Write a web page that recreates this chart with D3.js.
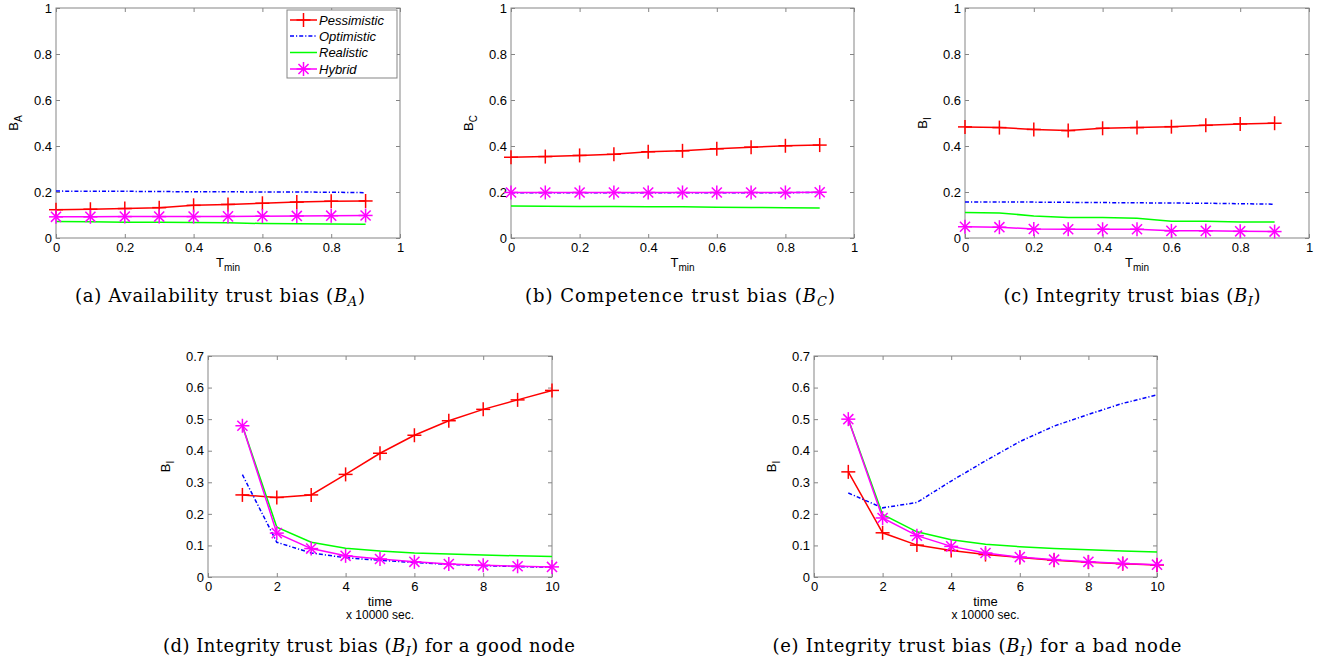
<!DOCTYPE html>
<html><head><meta charset="utf-8">
<script src="https://cdn.jsdelivr.net/npm/d3@7"></script>
<style>body{margin:0;background:#fff}svg{display:block}</style>
</head><body>
<svg id="chart" width="1320" height="662"></svg>
<script>
// ---- data ----
const seriesNames = ["Pessimistic", "Optimistic", "Realistic", "Hybrid"];
const tmin = [0, 0.1, 0.2, 0.3, 0.4, 0.5, 0.6, 0.7, 0.8, 0.9];
const timeSteps = [1, 2, 3, 4, 5, 6, 7, 8, 9, 10];
const tminTicks = [0, 0.2, 0.4, 0.6, 0.8, 1];
const tminTickLabels = ["0", "0.2", "0.4", "0.6", "0.8", "1"];
const biasTicks01 = [0, 0.2, 0.4, 0.6, 0.8, 1];
const biasTickLabels01 = ["0", "0.2", "0.4", "0.6", "0.8", "1"];
const timeTicks = [0, 2, 4, 6, 8, 10];
const timeTickLabels = ["0", "2", "4", "6", "8", "10"];
const biasTicks07 = [0, 0.1, 0.2, 0.3, 0.4, 0.5, 0.6, 0.7];
const biasTickLabels07 = ["0", "0.1", "0.2", "0.3", "0.4", "0.5", "0.6", "0.7"];

// (a) availability
const aPess = [0.123, 0.125, 0.128, 0.132, 0.142, 0.146, 0.151, 0.156, 0.160, 0.161];
const aOpt  = [0.204, 0.203, 0.203, 0.202, 0.201, 0.201, 0.200, 0.200, 0.199, 0.197];
const aReal = [0.072, 0.071, 0.069, 0.068, 0.067, 0.066, 0.063, 0.062, 0.061, 0.060];
const aHyb  = [0.092, 0.092, 0.093, 0.093, 0.093, 0.094, 0.095, 0.096, 0.097, 0.098];
// (b) competence
const bPess = [0.351, 0.354, 0.359, 0.364, 0.375, 0.379, 0.388, 0.395, 0.401, 0.404];
const bOpt  = [0.197, 0.197, 0.197, 0.197, 0.197, 0.197, 0.197, 0.197, 0.197, 0.198];
const bReal = [0.139, 0.138, 0.137, 0.137, 0.136, 0.136, 0.134, 0.133, 0.132, 0.130];
const bHyb  = [0.198, 0.198, 0.198, 0.198, 0.198, 0.198, 0.198, 0.198, 0.198, 0.199];
// (c) integrity
const cPess = [0.483, 0.480, 0.472, 0.467, 0.477, 0.480, 0.484, 0.490, 0.496, 0.499];
const cOpt  = [0.157, 0.157, 0.156, 0.155, 0.154, 0.153, 0.152, 0.151, 0.149, 0.147];
const cReal = [0.111, 0.109, 0.096, 0.089, 0.089, 0.086, 0.073, 0.073, 0.070, 0.070];
const cHyb  = [0.049, 0.047, 0.039, 0.038, 0.038, 0.038, 0.031, 0.031, 0.029, 0.028];
// (d) integrity, good node
const dPess = [0.260, 0.252, 0.260, 0.325, 0.392, 0.449, 0.495, 0.531, 0.561, 0.591];
const dOpt  = [0.324, 0.110, 0.076, 0.061, 0.053, 0.046, 0.040, 0.036, 0.033, 0.031];
const dReal = [0.479, 0.158, 0.110, 0.091, 0.082, 0.076, 0.073, 0.070, 0.067, 0.065];
const dHyb  = [0.479, 0.139, 0.090, 0.067, 0.057, 0.048, 0.041, 0.037, 0.034, 0.032];
// (e) integrity, bad node
const ePess = [0.333, 0.140, 0.101, 0.084, 0.071, 0.062, 0.053, 0.047, 0.042, 0.038];
const eOpt  = [0.266, 0.219, 0.236, 0.304, 0.368, 0.429, 0.478, 0.515, 0.550, 0.577];
const eReal = [0.500, 0.198, 0.143, 0.118, 0.104, 0.096, 0.090, 0.086, 0.082, 0.079];
const eHyb  = [0.500, 0.187, 0.131, 0.097, 0.076, 0.063, 0.055, 0.048, 0.043, 0.039];

// ---- styles ----
const styles = {
  Pessimistic: {color: "#ff0000", dash: null, marker: "plus"},
  Optimistic:  {color: "#0000ff", dash: "4,2,1.2,2", marker: null},
  Realistic:   {color: "#00ff00", dash: null, marker: null},
  Hybrid:      {color: "#ff00ff", dash: null, marker: "star"}
};

const panels = [
  {x: tmin, s: [aPess, aOpt, aReal, aHyb], box: [56, 400, 8, 238], xd: [0, 1], yd: [0, 1],
   xt: tminTicks, xtl: tminTickLabels, yt: biasTicks01, ytl: biasTickLabels01,
   ylab: ["B", "A"], xlab: "tmin", legend: true,
   cap: {pre: "(a) Availability trust bias (", sub: "A", post: ")", x: 220, y: 302, w: 290}},
  {x: tmin, s: [bPess, bOpt, bReal, bHyb], box: [511, 854, 8, 238], xd: [0, 1], yd: [0, 1],
   xt: tminTicks, xtl: tminTickLabels, yt: biasTicks01, ytl: biasTickLabels01,
   ylab: ["B", "C"], xlab: "tmin",
   cap: {pre: "(b) Competence trust bias (", sub: "C", post: ")", x: 680, y: 302, w: 310}},
  {x: tmin, s: [cPess, cOpt, cReal, cHyb], box: [965, 1309, 8, 238], xd: [0, 1], yd: [0, 1],
   xt: tminTicks, xtl: tminTickLabels, yt: biasTicks01, ytl: biasTickLabels01,
   ylab: ["B", "I"], xlab: "tmin",
   cap: {pre: "(c) Integrity trust bias (", sub: "I", post: ")", x: 1132, y: 302, w: 257}},
  {x: timeSteps, s: [dPess, dOpt, dReal, dHyb], box: [208, 552, 356, 577], xd: [0, 10], yd: [0, 0.7],
   xt: timeTicks, xtl: timeTickLabels, yt: biasTicks07, ytl: biasTickLabels07,
   ylab: ["B", "I"], xlab: "time",
   cap: {pre: "(d) Integrity trust bias (", sub: "I", post: ") for a good node", x: 369, y: 652, w: 412}},
  {x: timeSteps, s: [ePess, eOpt, eReal, eHyb], box: [814, 1157, 356, 577], xd: [0, 10], yd: [0, 0.7],
   xt: timeTicks, xtl: timeTickLabels, yt: biasTicks07, ytl: biasTickLabels07,
   ylab: ["B", "I"], xlab: "time",
   cap: {pre: "(e) Integrity trust bias (", sub: "I", post: ") for a bad node", x: 977, y: 652, w: 409}}
];

const svg = d3.select("#chart");
const FONT = "'Liberation Sans', Arial, Helvetica, sans-serif";
const SERIF = "'DejaVu Serif', 'Liberation Serif', serif";
const BORDER = "#858585";

function drawMarker(g, type, cx, cy, color, r) {
  const m = g.append("g").attr("transform", `translate(${cx},${cy})`)
    .attr("stroke", color).attr("stroke-width", 1.5).attr("fill", "none");
  const lines = [[-r, 0, r, 0], [0, -r, 0, r]];
  if (type === "star") {
    const k = r * 0.72;
    lines.push([-k, -k, k, k], [-k, k, k, -k]);
  }
  lines.forEach(l => m.append("line").attr("x1", l[0]).attr("y1", l[1]).attr("x2", l[2]).attr("y2", l[3]));
}

panels.forEach(p => {
  const [x0, x1, y0, y1] = p.box;
  const xs = d3.scaleLinear().domain(p.xd).range([x0, x1]);
  const ys = d3.scaleLinear().domain(p.yd).range([y1, y0]);
  const g = svg.append("g");

  g.append("rect").attr("x", x0).attr("y", y0).attr("width", x1 - x0).attr("height", y1 - y0)
    .attr("fill", "#fff");

  // axes (ticks inward, on all four sides)
  const tickLen = 4;
  const xAxis = d3.axisBottom(xs).tickValues(p.xt).tickFormat((d, i) => p.xtl[i]).tickSize(-tickLen).tickPadding(5);
  const yAxis = d3.axisLeft(ys).tickValues(p.yt).tickFormat((d, i) => p.ytl[i]).tickSize(-tickLen).tickPadding(4);
  const xTop = d3.axisTop(xs).tickValues(p.xt).tickFormat("").tickSize(-tickLen);
  const yRight = d3.axisRight(ys).tickValues(p.yt).tickFormat("").tickSize(-tickLen);

  [[xAxis, `translate(0,${y1})`], [yAxis, `translate(${x0},0)`],
   [xTop, `translate(0,${y0})`], [yRight, `translate(${x1},0)`]].forEach(([ax, tr]) => {
    const a = g.append("g").attr("transform", tr).call(ax);
    a.select(".domain").remove();
    a.selectAll(".tick line").attr("stroke", BORDER);
    a.selectAll(".tick text").attr("fill", "#000").style("font-family", FONT).style("font-size", "13px");
  });

  g.append("rect").attr("x", x0).attr("y", y0).attr("width", x1 - x0).attr("height", y1 - y0)
    .attr("fill", "none").attr("stroke", BORDER).attr("stroke-width", 1);

  // series
  seriesNames.forEach((name, si) => {
    const st = styles[name];
    const vals = p.s[si];
    const pts = p.x.map((xv, i) => [xs(xv), ys(vals[i])]);
    g.append("path").attr("d", d3.line()(pts)).attr("fill", "none")
      .attr("stroke", st.color).attr("stroke-width", 1.5)
      .attr("stroke-dasharray", st.dash);
    if (st.marker) pts.forEach(pt => drawMarker(g, st.marker, pt[0], pt[1], st.color, 7));
  });

  // y label
  const yl = g.append("text")
    .attr("transform", `translate(${x0 - 38},${(y0 + y1) / 2}) rotate(-90)`)
    .attr("text-anchor", "middle").style("font-family", FONT).style("font-size", "13px").attr("fill", "#000");
  yl.append("tspan").text(p.ylab[0]);
  yl.append("tspan").attr("dy", 4).style("font-size", "10px").text(p.ylab[1]);

  // x label
  const cx = (x0 + x1) / 2;
  if (p.xlab === "tmin") {
    const xl = g.append("text").attr("x", cx).attr("y", y1 + 29).attr("text-anchor", "middle")
      .style("font-family", FONT).style("font-size", "13px").attr("fill", "#000");
    xl.append("tspan").text("T");
    xl.append("tspan").attr("dy", 4).style("font-size", "10px").text("min");
  } else {
    g.append("text").attr("x", cx).attr("y", y1 + 29).attr("text-anchor", "middle")
      .style("font-family", FONT).style("font-size", "13px").attr("fill", "#000").text("time");
    g.append("text").attr("x", cx).attr("y", y1 + 42).attr("text-anchor", "middle")
      .style("font-family", FONT).style("font-size", "12px").attr("fill", "#000").text("x 10000 sec.");
  }

  // caption
  const c = p.cap;
  const ct = svg.append("text").attr("x", c.x).attr("y", c.y).attr("text-anchor", "middle")
    .style("font-family", SERIF).style("font-size", "18px").attr("fill", "#000")
    .attr("textLength", c.w).attr("lengthAdjust", "spacing");
  ct.append("tspan").text(c.pre);
  ct.append("tspan").style("font-style", "italic").text("B");
  ct.append("tspan").style("font-style", "italic").style("font-size", "13px").attr("dy", 4).text(c.sub);
  ct.append("tspan").attr("dy", -4).text(c.post);

  // legend
  if (p.legend) {
    const lg = svg.append("g");
    lg.append("rect").attr("x", 287).attr("y", 10).attr("width", 110).attr("height", 68)
      .attr("fill", "#fff").attr("stroke", BORDER).attr("stroke-width", 1);
    const rows = [20, 36, 52.5, 69];
    seriesNames.forEach((name, i) => {
      const st = styles[name];
      const yy = rows[i];
      lg.append("line").attr("x1", 290).attr("x2", 317).attr("y1", yy).attr("y2", yy)
        .attr("stroke", st.color).attr("stroke-width", 1.5).attr("stroke-dasharray", st.dash);
      if (st.marker) drawMarker(lg, st.marker, 303.5, yy, st.color, 7);
      lg.append("text").attr("x", 319).attr("y", yy + 4.5).style("font-family", FONT)
        .style("font-size", "13px").style("font-style", "italic").attr("fill", "#000").text(name);
    });
  }
});
</script>
</body></html>
